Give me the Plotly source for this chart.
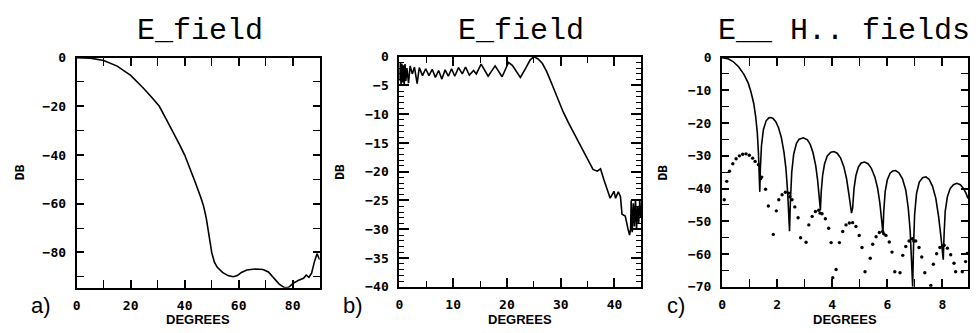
import plotly.graph_objects as go

# ---------------- data ----------------
# panel a: E field, 0-90 degrees
a_deg = [0, 5, 10, 15, 20, 22.5, 25, 28, 30.6, 33, 36, 38, 40, 42, 44, 46, 47, 48, 49, 50,
         51, 52, 54, 56, 58, 59.5, 61, 63, 66, 69, 71, 73, 75, 77, 78.5, 80, 82, 84, 85, 86,
         87, 88, 89, 90]
a_db = [0, -0.2, -1.2, -3.5, -7.3, -10, -12.9, -16.6, -20, -25, -31, -35.5, -40, -45.5, -51.5,
        -57.5, -61, -66, -72.5, -80, -84, -86, -88.2, -89.5, -90.0, -89.5, -88.2, -87.2, -86.8,
        -87, -88, -90.3, -93, -94.5, -94.3, -92.8, -91.5, -90.6, -89.3, -90.2, -88.5, -84, -80.5, -83]

# panel b: E field, 0-45 degrees
b_deg = [0.0, 0.15, 0.3, 0.45, 0.6, 0.75, 0.9, 1.05, 1.2, 1.4, 1.7, 2.0, 2.4, 2.8, 3.3, 3.7,
         4.3, 4.9, 5.5, 6.1, 6.7, 7.3, 7.9, 8.5, 9.1, 9.7, 10.3, 11.0, 11.7, 12.3, 13.0, 13.8,
         14.3, 15.2, 16.5, 17.8, 19.1, 20.3, 21.0, 22.5, 23.5, 24.3, 25.0, 25.8, 26.6, 27.4,
         28.2, 29.0, 29.8, 30.5, 31.5, 32.5, 33.5, 34.3, 35.2, 36.0, 36.8, 37.4, 38.0, 38.6,
         39.2, 39.9, 40.2, 40.7, 41.1, 41.4, 42.0, 42.5, 42.8, 43.0, 43.1, 43.3, 43.5, 43.7,
         43.9, 44.1, 44.3, 44.5, 44.7, 44.9, 45.0]
b_db = [-4.2, -1.0, -4.8, -1.2, -4.5, -1.5, -4.9, -1.3, -4.2, -2.0, -4.6, -1.6, -3.0, -1.8,
        -4.7, -1.9, -3.3, -2.1, -3.3, -2.2, -3.6, -2.4, -3.9, -2.3, -3.4, -2.1, -3.4, -1.9,
        -3.0, -1.8, -3.2, -2.4, -3.0, -1.3, -3.4, -1.6, -3.5, -1.0, -1.5, -3.6, -2.0, -0.6,
        0.0, -0.4, -1.2, -2.6, -4.4, -6.2, -8.1, -9.7, -11.6, -13.4, -15.2, -16.5, -18.3,
        -19.6, -19.9, -19.5, -21.3, -23.0, -24.6, -23.4, -24.6, -23.5, -24.3, -27.4, -27.7,
        -29.9, -31.0, -30.0, -25.0, -30.5, -25.5, -29.5, -24.8, -30.0, -26.0, -29.0, -25.0,
        -28.0, -26.5]

# panel c: E field (solid) 0-9 degrees
c_e_deg = [0, 0.2, 0.4, 0.6, 0.8, 0.95, 1.05, 1.15, 1.22, 1.28, 1.32, 1.35, 1.37,
           1.39, 1.43, 1.5, 1.6, 1.7, 1.77, 1.85, 1.95, 2.05, 2.15, 2.25, 2.32, 2.38, 2.42, 2.45,
           2.48, 2.53, 2.6, 2.7, 2.8, 2.95, 3.1, 3.2, 3.3, 3.4, 3.47, 3.53, 3.57,
           3.6, 3.65, 3.72, 3.82, 3.95, 4.06, 4.18, 4.3, 4.42, 4.52, 4.6, 4.66, 4.7,
           4.74, 4.79, 4.86, 4.95, 5.05, 5.17, 5.3, 5.42, 5.55, 5.65, 5.73, 5.8, 5.84,
           5.87, 5.92, 6.0, 6.1, 6.2, 6.3, 6.42, 6.55, 6.67, 6.76, 6.83, 6.88, 6.92,
           6.95, 6.99, 7.06, 7.16, 7.28, 7.4, 7.52, 7.64, 7.76, 7.86, 7.95, 8.03,
           8.06, 8.1, 8.18, 8.28, 8.4, 8.52, 8.65, 8.75, 8.85, 8.93]
c_e_db = [0, -0.3, -1.2, -2.8, -5.2, -7.8, -10.5, -14, -18, -23, -29, -36, -41,
          -34, -27, -22, -19.3, -18.4, -18.3, -18.6, -19.6, -21.4, -24.3, -29, -34, -41, -47, -53,
          -44, -35, -29.5, -26.2, -24.9, -24.5, -25.1, -26.5, -29, -33, -37.5, -43, -46.5,
          -41, -36, -32.5, -30, -28.9, -28.7, -29.2, -30.6, -33.3, -37, -41.5, -46, -47.5,
          -46, -40, -36, -33.4, -32.2, -31.9, -32.4, -33.8, -36.5, -40, -44.5, -50, -53.5,
          -47, -41, -37.3, -35.3, -34.6, -34.5, -35.2, -37, -40.5, -46, -53, -61, -70,
          -58, -48, -41.5, -38, -36.7, -36.4, -37.2, -39.3, -43, -48.5, -55, -61.7,
          -54, -47, -42.5, -40, -38.8, -38.4, -38.8, -39.8, -41.3, -43]

# panel c: H field (dots)
c_h_deg = [0.08, 0.17, 0.27, 0.39, 0.51, 0.63, 0.75, 0.87, 0.99, 1.11, 1.20, 1.32, 1.40, 1.44,
           1.58, 1.68, 1.86, 1.97, 2.06, 2.18, 2.30, 2.42, 2.46, 2.54, 2.64, 2.76, 2.85, 3.05,
           3.15, 3.27, 3.39, 3.51, 3.56, 3.63, 3.75, 3.87, 3.96, 4.02, 4.14, 4.26, 4.38, 4.50,
           4.62, 4.74, 4.86, 4.98, 5.08, 5.19, 5.38, 5.47, 5.59, 5.71, 5.83, 5.87, 5.95, 6.07,
           6.17, 6.27, 6.46, 6.56, 6.67, 6.79, 6.91, 6.96, 7.03, 7.15, 7.25, 7.36, 7.58, 7.67,
           7.79, 7.91, 8.02, 8.06, 8.18, 8.30, 8.42, 8.48, 8.72, 8.84, 8.90]
c_h_db = [-43.4, -37.8, -34.7, -32.4, -30.9, -30.0, -29.5, -29.4, -29.8, -30.7, -31.7, -32.7,
          -37.0, -36.5, -40.2, -45.3, -54.0, -46.8, -43.4, -41.9, -41.1, -41.4, -42.5, -43.4,
          -45.6, -48.9, -55.0, -56.4, -51.1, -48.5, -47.0, -46.6, -47.5, -47.7, -49.2, -52.1,
          -56.5, -67.2, -64.7, -56.5, -53.1, -51.1, -50.5, -50.4, -51.6, -54.3, -58.0, -65.4,
          -61.3, -57.0, -54.7, -53.4, -53.1, -53.8, -54.3, -56.3, -59.4, -65.4, -65.7, -60.4,
          -57.7, -56.0, -55.3, -56.0, -56.0, -58.0, -60.9, -65.7, -69.6, -63.1, -59.9, -58.0,
          -57.5, -57.3, -58.2, -60.2, -62.8, -65.4, -65.4, -62.3, -59.8]

a_xticks = [0, 20, 40, 60, 80]
a_yticks = [0, -20, -40, -60, -80]
b_xticks = [0, 10, 20, 30, 40]
b_yticks = [0, -5, -10, -15, -20, -25, -30, -35, -40]
c_xticks = [0, 2, 4, 6, 8]
c_yticks = [0, -10, -20, -30, -40, -50, -60, -70]

titles = ["E_field", "E_field", "E__ H.. fields"]
panel_tags = ["a)", "b)", "c)"]

# ---------------- figure ----------------
W, H = 980, 333
fig = go.Figure()
line = dict(color="black", width=1.6)
fig.add_trace(go.Scatter(x=a_deg, y=a_db, mode="lines", line=line, xaxis="x", yaxis="y"))
fig.add_trace(go.Scatter(x=b_deg, y=b_db, mode="lines", line=line, xaxis="x2", yaxis="y2"))
fig.add_trace(go.Scatter(x=c_e_deg, y=c_e_db, mode="lines", line=line, xaxis="x3", yaxis="y3"))
fig.add_trace(go.Scatter(x=c_h_deg, y=c_h_db, mode="markers",
                         marker=dict(color="black", size=3.4, symbol="circle"),
                         xaxis="x3", yaxis="y3"))

tickfont = dict(family="DejaVu Sans Mono", size=13, color="black", weight="bold")


def px_x(p):
    return p / W


def px_y(p):
    return 1 - p / H


def axis(domain, rng, tickvals, dtick_minor, ticklen, minorlen, anchor, is_y):
    d = dict(domain=domain, range=rng, tickmode="array", tickvals=tickvals,
             ticks="inside", ticklen=ticklen, tickwidth=1.5, tickcolor="black",
             showline=True, linecolor="black", linewidth=2, mirror="ticks",
             showgrid=False, zeroline=False, tickfont=tickfont, anchor=anchor,
             fixedrange=True,
             minor=dict(ticks="inside", dtick=dtick_minor, ticklen=minorlen,
                        tickwidth=1.2, tickcolor="black", showgrid=False,
                        tick0=0))
    d["ticklabelstandoff"] = 6 if is_y else 5
    return d


boxes = [
    (73, 317, 53, 294),
    (397, 640, 52, 293),
    (721, 968, 53, 293),
]
ax_ranges = [([0, 90], [-94.5, 0]), ([0, 45], [-40, 0]), ([0, 8.93], [-70, 0])]
xt = [a_xticks, b_xticks, c_xticks]
yt = [a_yticks, b_yticks, c_yticks]
x_minor = [10, 5, 1]
y_minor = [10, 1, 5]
x_len = [(8, 8), (9, 6), (8, 8)]
y_len = [(7, 7), (10, 5), (7, 7)]

layout = dict(width=W, height=H, margin=dict(l=0, r=0, t=0, b=0), autosize=False,
              plot_bgcolor="white", paper_bgcolor="white", showlegend=False)
ann = []
for i in range(3):
    sfx = "" if i == 0 else str(i + 1)
    l, r, t, b = boxes[i]
    xd = [px_x(l), px_x(r)]
    yd = [px_y(b), px_y(t)]
    layout["xaxis" + sfx] = axis(xd, ax_ranges[i][0], xt[i], x_minor[i], x_len[i][0],
                                 x_len[i][1], "y" + sfx, False)
    layout["yaxis" + sfx] = axis(yd, ax_ranges[i][1], yt[i], y_minor[i], y_len[i][0],
                                 y_len[i][1], "x" + sfx, True)
    cx = (l + r) / 2
    # title
    ann.append(dict(text=titles[i], x=px_x([197, 519, 843][i]), y=px_y(25), xref="paper",
                    yref="paper", showarrow=False, xanchor="center", yanchor="middle",
                    font=dict(family="Liberation Mono", size=30, color="black")))
    # panel tag
    ann.append(dict(text=panel_tags[i], x=px_x([37, 350, 675][i]), y=px_y(313), xref="paper",
                    yref="paper", showarrow=False, xanchor="center", yanchor="middle",
                    font=dict(family="Liberation Sans", size=22, color="black")))
    # x label
    ann.append(dict(text="DEGREES", x=px_x(cx), y=px_y(327), xref="paper", yref="paper",
                    showarrow=False, xanchor="center", yanchor="middle",
                    font=dict(family="Liberation Sans", size=13, color="black", weight="bold")))
    # y label
    ann.append(dict(text="DB", x=px_x([15, 337, 661][i]), y=px_y(173), xref="paper",
                    yref="paper", showarrow=False, xanchor="center", yanchor="middle",
                    textangle=-90,
                    font=dict(family="DejaVu Sans Mono", size=13, color="black", weight="bold")))
layout["annotations"] = ann
fig.update_layout(**layout)
fig.write_html("out.html", config={"displayModeBar": False},
               post_script="document.body.style.margin='0';document.body.style.overflow='hidden';")
